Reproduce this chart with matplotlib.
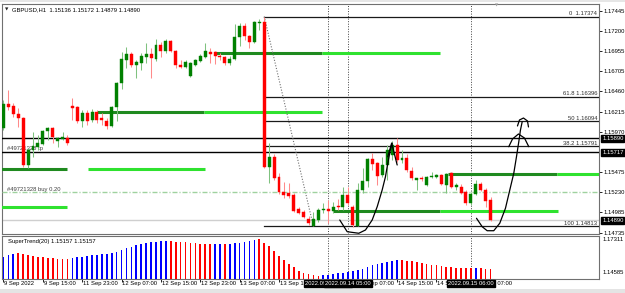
import matplotlib
matplotlib.use("Agg")
import matplotlib.pyplot as plt
from matplotlib.patches import Rectangle

plt.rcParams['font.family'] = ['Liberation Sans', 'DejaVu Sans']

# ---------------- data ----------------
header_text = "GBPUSD,H1  1.15136 1.15172 1.14879 1.14890"
indicator_text = "SuperTrend(20) 1.15157 1.15157"

opens = [1.16014, 1.16307, 1.16283, 1.16185, 1.16136, 1.15563, 1.15746, 1.15783, 1.15819, 1.15978,
         1.16014, 1.15856, 1.15880, 1.15892, 1.16283, 1.16271, 1.16100, 1.16197, 1.16112, 1.16210,
         1.16136, 1.16100, 1.16039, 1.16271, 1.16563, 1.16844, 1.16917, 1.16783, 1.16807, 1.16880,
         1.16917, 1.16856, 1.17026, 1.16953, 1.17075, 1.16953, 1.16783, 1.16758, 1.16649, 1.16783,
         1.16831, 1.16880, 1.16941, 1.16941, 1.16892, 1.16880, 1.16807, 1.16856, 1.17124, 1.17258,
         1.17136, 1.17063, 1.17295, 1.17307, 1.15538, 1.15661, 1.15416, 1.15234, 1.15221, 1.15197,
         1.15026, 1.14990, 1.14904, 1.14820, 1.14892, 1.15014, 1.15026, 1.15002, 1.15063, 1.15051,
         1.15197, 1.15051, 1.14820, 1.15258, 1.15368, 1.15636, 1.15587, 1.15441, 1.15563, 1.15685,
         1.15807, 1.15624, 1.15648, 1.15490, 1.15380, 1.15404, 1.15319, 1.15416, 1.15416, 1.15441,
         1.15319, 1.15465, 1.15294, 1.15294, 1.15234, 1.15099, 1.15209, 1.15331, 1.15258, 1.15136]
highs = [1.16356, 1.16478, 1.16319, 1.16258, 1.16149, 1.15770, 1.15966, 1.15929, 1.15990, 1.16027,
         1.16027, 1.15905, 1.15966, 1.15929, 1.16380, 1.16280, 1.16234, 1.16234, 1.16246, 1.16234,
         1.16197, 1.16136, 1.16283, 1.16576, 1.16941, 1.17002, 1.16941, 1.16844, 1.16929, 1.17051,
         1.16990, 1.17100, 1.17063, 1.17100, 1.17088, 1.16966, 1.16844, 1.16844, 1.16819, 1.16856,
         1.16917, 1.17051, 1.16990, 1.16950, 1.16929, 1.16892, 1.16892, 1.17283, 1.17295, 1.17295,
         1.17149, 1.17320, 1.17350, 1.17374, 1.15831, 1.15697, 1.15465, 1.15355, 1.15343, 1.15221,
         1.15051, 1.15014, 1.14941, 1.14990, 1.15039, 1.15099, 1.15136, 1.15112, 1.15148, 1.15294,
         1.15294, 1.15075, 1.15343, 1.15526, 1.15648, 1.15710, 1.15600, 1.15661, 1.15807, 1.15856,
         1.15892, 1.15746, 1.15697, 1.15538, 1.15410, 1.15428, 1.15428, 1.15477, 1.15453, 1.15453,
         1.15465, 1.15477, 1.15343, 1.15331, 1.15258, 1.15234, 1.15380, 1.15355, 1.15282, 1.15172]
lows = [1.15990, 1.16234, 1.16149, 1.16027, 1.15538, 1.15526, 1.15661, 1.15746, 1.15807, 1.15868,
        1.15831, 1.15783, 1.15868, 1.15807, 1.16112, 1.16075, 1.16027, 1.16051, 1.16088, 1.16075,
        1.16051, 1.16002, 1.16027, 1.16100, 1.16490, 1.16746, 1.16758, 1.16624, 1.16722, 1.16807,
        1.16624, 1.16831, 1.16880, 1.16929, 1.16941, 1.16746, 1.16746, 1.16746, 1.16637, 1.16770,
        1.16819, 1.16868, 1.16807, 1.16795, 1.16844, 1.16783, 1.16783, 1.16844, 1.17014, 1.17088,
        1.16990, 1.17051, 1.17210, 1.15526, 1.15343, 1.15380, 1.15209, 1.15160, 1.15160, 1.14990,
        1.14970, 1.14917, 1.14831, 1.14813, 1.14868, 1.14977, 1.14855, 1.14977, 1.15014, 1.15014,
        1.15075, 1.14807, 1.14813, 1.15221, 1.15294, 1.15502, 1.15319, 1.15416, 1.15380, 1.15624,
        1.15600, 1.15587, 1.15477, 1.15380, 1.15258, 1.15368, 1.15306, 1.15404, 1.15404, 1.15319,
        1.15221, 1.15282, 1.15258, 1.15209, 1.15075, 1.15075, 1.15197, 1.15246, 1.15051, 1.14879]
closes = [1.16307, 1.16271, 1.16185, 1.16136, 1.15563, 1.15746, 1.15795, 1.15831, 1.15978, 1.16014,
          1.15905, 1.15892, 1.15905, 1.15831, 1.16258, 1.16100, 1.16197, 1.16100, 1.16210, 1.16112,
          1.16112, 1.16039, 1.16271, 1.16563, 1.16856, 1.16917, 1.16783, 1.16819, 1.16892, 1.16917,
          1.16868, 1.17026, 1.16953, 1.17075, 1.16953, 1.16783, 1.16758, 1.16819, 1.16807, 1.16844,
          1.16892, 1.16953, 1.16917, 1.16892, 1.16880, 1.16807, 1.16856, 1.17124, 1.17258, 1.17136,
          1.17063, 1.17307, 1.17307, 1.15538, 1.15661, 1.15404, 1.15234, 1.15197, 1.15185, 1.15002,
          1.14977, 1.14929, 1.14855, 1.14904, 1.15014, 1.15026, 1.15002, 1.15051, 1.15051, 1.15197,
          1.15099, 1.14831, 1.15258, 1.15368, 1.15636, 1.15575, 1.15428, 1.15563, 1.15746, 1.15807,
          1.15624, 1.15648, 1.15502, 1.15404, 1.15404, 1.15392, 1.15416, 1.15428, 1.15441, 1.15331,
          1.15453, 1.15294, 1.15319, 1.15221, 1.15099, 1.15209, 1.15331, 1.15258, 1.15124, 1.14890]

supertrend = [1.16011, 1.16135, 1.16210, 1.16260, 1.16210, 1.16135, 1.16061, 1.16011, 1.15961, 1.15936,
              1.15911, 1.15861, 1.15861, 1.15861, 1.15886, 1.15961, 1.16011, 1.16061, 1.16111, 1.16160,
              1.16210, 1.16210, 1.16260, 1.16360, 1.16510, 1.16635, 1.16760, 1.16859, 1.16934, 1.17009,
              1.17084, 1.17134, 1.17159, 1.17159, 1.17184, 1.17134, 1.17109, 1.17084, 1.17034, 1.17009,
              1.16984, 1.16959, 1.16959, 1.16959, 1.16959, 1.16959, 1.16984, 1.17009, 1.17059, 1.17109,
              1.17159, 1.17259, 1.17309, 1.17059, 1.16810, 1.16460, 1.16061, 1.15761, 1.15461, 1.15212,
              1.14962, 1.14790, 1.14688, 1.14625, 1.14600, 1.14637, 1.14662, 1.14712, 1.14762, 1.14812,
              1.14887, 1.14937, 1.15012, 1.15112, 1.15212, 1.15362, 1.15461, 1.15511, 1.15586, 1.15661,
              1.15736, 1.15736, 1.15711, 1.15661, 1.15586, 1.15511, 1.15461, 1.15411, 1.15362, 1.15312,
              1.15262, 1.15212, 1.15186, 1.15162, 1.15137, 1.15137, 1.15162, 1.15137, 1.15112, 1.15087]
supertrend_up = [1, 1, 1, 0, 0, 0, 0, 0, 0, 0, 0, 0, 0, 0, 1, 1, 1, 1, 1, 1,
                 1, 1, 1, 1, 1, 1, 1, 1, 1, 1, 1, 1, 1, 1, 0, 0, 0, 0, 0, 0,
                 0, 0, 0, 1, 1, 0, 1, 1, 1, 1, 1, 1, 0, 0, 0, 0, 0, 0, 0, 0,
                 0, 0, 0, 0, 0, 1, 1, 1, 1, 1, 1, 1, 1, 1, 1, 1, 1, 1, 1, 1,
                 1, 0, 0, 0, 0, 0, 0, 0, 0, 0, 0, 0, 0, 0, 0, 0, 1, 0, 0, 0]
indicator_max_label = "1.17311"
indicator_min_label = "1.14585"
indicator_max = 1.17311
indicator_min = 1.14585

price_ticks = [1.17445, 1.17200, 1.16955, 1.16705, 1.16460, 1.16215, 1.15970,
               1.15475, 1.15230, 1.14985, 1.14735]

time_label_bars = [0, 8, 16, 24, 32, 40, 48, 56, 72, 80, 88, 96]
time_labels = ["9 Sep 2022", "9 Sep 15:00", "11 Sep 23:00", "12 Sep 07:00", "12 Sep 15:00",
               "12 Sep 23:00", "13 Sep 07:00", "13 Sep 15:00", "14 Sep 07:00",
               "14 Sep 15:00", "14 Sep 23:00", "15 Sep 07:00"]

vline_bars = [66, 70, 95]
vline_labels = ["2022.09.14 01:00", "2022.09.14 05:00", "2022.09.15 06:00"]

fib_start_bar = 53
fib_end_bar = 63
fib_levels = ["0", "61.8", "50", "38.2", "100"]
fib_prices = [1.17374, 1.16396, 1.16094, 1.15791, 1.14813]

hline_prices = [1.15890, 1.15717]
bid_price = 1.14890
order_price = 1.15230
order_text = "#49721328 buy 0.20"
tp_price = 1.15717
tp_text = "#49721328 tp"

zone_prices = [1.16935, 1.16935, 1.16213, 1.16213, 1.15511, 1.15511, 1.15051,
               1.15459, 1.15459, 1.15004, 1.15004]
zone_starts = [42.7, 64.8, 19.1, 40.7, -1.0, 17.1, -1.0, 90.4, 112.6, 66.9, 88.8]
zone_ends = [64.8, 88.8, 40.7, 64.8, 13.0, 40.9, 13.0, 112.6, 125.0, 88.8, 112.8]
zone_bright = [0, 1, 0, 1, 0, 1, 1, 0, 1, 0, 1]

# hand-drawn annotation strokes (bar, price)
curveA_x = [68.35, 69.86, 72.22, 73.58, 74.94, 75.96, 76.97, 77.64, 78.11, 78.66, 79.0]
curveA_y = [1.14892, 1.14749, 1.14730, 1.14770, 1.14892, 1.15054, 1.15258, 1.15420, 1.15584, 1.15755, 1.15828]
arrowA_x = [78.11, 78.9, 80.02]
arrowA_y = [1.15664, 1.15830, 1.15563]
curveB_x = [96.14, 97.30, 98.31, 99.65, 100.87, 102.03, 102.91, 103.72, 104.27, 104.74, 105.08, 105.43]
curveB_y = [1.14913, 1.14810, 1.14761, 1.14761, 1.14852, 1.15035, 1.15258, 1.15462, 1.15664, 1.15847, 1.15990, 1.16091]
arcB1_x = [102.7, 103.46, 104.67, 105.89, 106.77]
arcB1_y = [1.15786, 1.15880, 1.15941, 1.15892, 1.15786]
arcB2_x = [104.47, 104.88, 105.69, 106.5, 106.71]
arcB2_y = [1.16039, 1.16112, 1.16136, 1.16100, 1.16027]

# ---------------- layout ----------------
W, H = 625, 293
fig = plt.figure(figsize=(W / 100, H / 100), dpi=100)
fig.patch.set_facecolor('white')

BAR_PX = 4.92
left_px, right_px = 2, 599
x0 = -0.3
x1 = x0 + (right_px - left_px) / BAR_PX

ax = fig.add_axes([left_px / W, 1 - 234 / H, (right_px - left_px) / W, 230 / H])
ax2 = fig.add_axes([left_px / W, 1 - 279 / H, (right_px - left_px) / W, 43 / H])
ax.set_xlim(x0, x1)
ax.set_ylim(1.14721, 1.17527)
ax2.set_xlim(x0, x1)
ax2.set_ylim(1.14338, 1.17559)

FS = 4.2
for a in (ax, ax2):
    a.set_facecolor('white')
    for s in a.spines.values():
        s.set_color('#707070')
        s.set_linewidth(0.8)
    a.set_xticks([])

# main price axis on right
ax.yaxis.tick_right()
ax.set_yticks(price_ticks)
ax.set_yticklabels([f"{p:.5f}" for p in price_ticks])
ax.tick_params(axis='y', direction='out', length=2.2, width=0.6, pad=1.2,
               labelsize=FS, colors='#000000')
ax2.set_yticks([])

# top / bottom UI strips
fig.add_artist(Rectangle((0, 1 - 2 / H), 1, 2 / H, transform=fig.transFigure,
                         fc='#e6e6e6', ec='none'))
fig.add_artist(Rectangle((0, 0), 1, 4 / H, transform=fig.transFigure,
                         fc='#e4e4e4', ec='none'))

# ---------------- main panel objects ----------------
n = len(opens)
idx = list(range(n))

# vertical dotted lines
for b in vline_bars:
    ax.axvline(b, color='#404040', lw=0.7, ls=(0, (1, 1.6)), zorder=2)
    ax2.axvline(b, color='#404040', lw=0.7, ls=(0, (1, 1.6)), zorder=2)

# green zones
for p, s, e, br in zip(zone_prices, zone_starts, zone_ends, zone_bright):
    ax.plot([s, e], [p, p], color=('#2fe22f' if br else '#1f8a1f'), lw=2.2,
            solid_capstyle='butt', zorder=3)

# full-width black lines
for p in hline_prices:
    ax.axhline(p, color='#000000', lw=1.0, zorder=3)

# fibonacci levels
for lev, p in zip(fib_levels, fib_prices):
    ax.plot([fib_start_bar, x1 + 1], [p, p], color='#1a1a1a', lw=0.9, zorder=3)
    ax.annotate(f"{lev}  {p:.5f}" if lev == "0" else f"{lev} {p:.5f}",
                xy=(0.997, p), xycoords=('axes fraction', 'data'),
                xytext=(0, 0.4), textcoords='offset points', ha='right', va='bottom',
                fontsize=FS, color='#303030', zorder=4)
ax.plot([fib_start_bar, fib_end_bar], [fib_prices[0], fib_prices[-1]],
        color='#707070', lw=0.8, ls=(0, (1, 1.5)), zorder=3)

# order line and bid line
ax.axhline(order_price, color='#9fd29f', lw=1.0, ls=(0, (3.6, 1.4, 0.8, 1.4)), zorder=3)
ax.axhline(bid_price, color='#cfcfcf', lw=1.0, zorder=2)
ax.annotate(order_text, xy=(0.008, order_price), xycoords=('axes fraction', 'data'),
            xytext=(0, 0.4), textcoords='offset points', ha='left', va='bottom',
            fontsize=FS, color='#404040', zorder=4)
ax.annotate(tp_text, xy=(0.008, tp_price), xycoords=('axes fraction', 'data'),
            xytext=(0, 1.2), textcoords='offset points', ha='left', va='bottom',
            fontsize=FS, color='#404040', zorder=4)

# candles
for i, o, h, l, c in zip(idx, opens, highs, lows, closes):
    up = c >= o
    body = '#008000' if up else '#ff0000'
    wick = '#7fc27f' if up else '#ff8a8a'
    ax.plot([i, i], [l, h], color=wick, lw=0.75, zorder=5, solid_capstyle='butt')
    ax.add_patch(Rectangle((i - 0.3, min(o, c)), 0.6, max(abs(c - o), 0.00003),
                           fc=body, ec=body, lw=0.3, zorder=6))

# hand-drawn strokes
for xs, ys in ((curveA_x, curveA_y), (arrowA_x, arrowA_y), (curveB_x, curveB_y),
               (arcB1_x, arcB1_y), (arcB2_x, arcB2_y)):
    ax.plot(xs, ys, color='#000000', lw=0.9, zorder=7, clip_on=False,
            solid_joinstyle='round', solid_capstyle='round')

# right-axis price boxes
for p in (1.15890, 1.15717, bid_price):
    ax.annotate(f"{p:.5f}", xy=(1, p), xycoords=('axes fraction', 'data'),
                xytext=(2.2, 0), textcoords='offset points', ha='left', va='center',
                fontsize=FS, color='white', zorder=10, annotation_clip=False,
                bbox=dict(boxstyle='square,pad=0.18', fc='black', ec='black'))

# header
fig.text(5 / W, 1 - 9.5 / H, "\u25bc", fontsize=3.2, va='center', ha='left',
         family=['DejaVu Sans'], color='#202020')
fig.text(12 / W, 1 - 9.5 / H, header_text, fontsize=FS, va='center', ha='left', color='#000000')
fig.text(497 / W, 1 - 5.5 / H, "\u25bc", fontsize=3.0, va='center', ha='center',
         family=['DejaVu Sans'], color='#a0a0a0')

# ---------------- indicator panel ----------------
bottom = ax2.get_ylim()[0]
for i, v, u in zip(idx, supertrend, supertrend_up):
    ax2.bar(i, v - bottom, bottom=bottom, width=0.34,
            color=('#0000ff' if u else '#ff0000'), lw=0, zorder=3)
ax2.text(6 / (right_px - left_px), 1 - 5.5 / 43, indicator_text, transform=ax2.transAxes,
         fontsize=FS, va='center', ha='left', color='#000000', zorder=5)
ax2.annotate(indicator_max_label, xy=(1, indicator_max), xycoords=('axes fraction', 'data'),
             xytext=(2.5, 0), textcoords='offset points', ha='left', va='center',
             fontsize=FS, annotation_clip=False)
ax2.annotate(indicator_min_label, xy=(1, indicator_min), xycoords=('axes fraction', 'data'),
             xytext=(2.5, 2.0), textcoords='offset points', ha='left', va='center',
             fontsize=FS, annotation_clip=False)

# time axis
ax2.set_xticks(time_label_bars)
ax2.tick_params(axis='x', direction='out', length=1.8, width=0.6, labelbottom=False)
for b, t in zip(time_label_bars, time_labels):
    ax2.annotate(t, xy=(b, 0), xycoords=('data', 'axes fraction'), xytext=(0.6, -1.2),
                 textcoords='offset points', ha='left', va='top', fontsize=FS,
                 annotation_clip=False, zorder=5)
for k, (b, t) in enumerate(zip(vline_bars, vline_labels)):
    ax2.annotate(t, xy=(b, 0), xycoords=('data', 'axes fraction'), xytext=(0, -1.2),
                 textcoords='offset points', ha='center', va='top', fontsize=FS,
                 color='white', annotation_clip=False, zorder=10 + k,
                 bbox=dict(boxstyle='square,pad=0.15', fc='black', ec='black'))

fig.savefig("out.png", dpi=100)
